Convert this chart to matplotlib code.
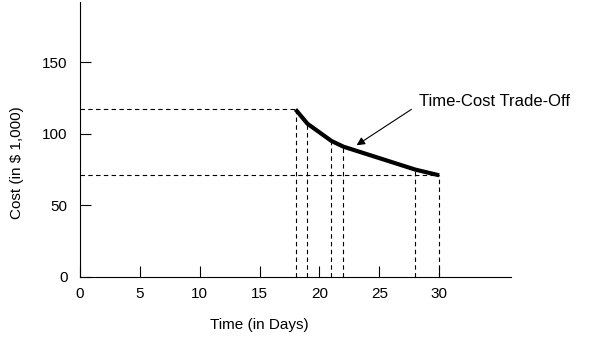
import matplotlib
matplotlib.use("Agg")
import matplotlib.pyplot as plt

plt.rcParams['font.family'] = ['Liberation Sans', 'DejaVu Sans']

days = [18, 19, 21, 22, 28, 30]
cost = [117, 107, 95, 91, 75, 71]
x_ticks = [0, 5, 10, 15, 20, 25, 30]
y_ticks = [0, 50, 100, 150]

fig = plt.figure(figsize=(5.89, 3.43), dpi=100)
ax = fig.add_axes([80 / 589, 66 / 343, 431 / 589, 275 / 343])

# guide lines from the end points back to the cost axis
dash = dict(color='black', lw=0.8, ls=(0, (4, 3)))
ax.plot([0, days[0]], [cost[0], cost[0]], **dash)
ax.plot([0, days[-1]], [cost[-1], cost[-1]], **dash)
for d, c in zip(days, cost):
    ax.plot([d, d], [0, c], **dash)

ax.plot(days, cost, color='black', lw=3, solid_capstyle='butt',
        solid_joinstyle='round')

ax.annotate('Time-Cost Trade-Off', xy=(23.1, 92), xytext=(28.3, 122.5),
            fontsize=12, va='center', ha='left',
            arrowprops=dict(arrowstyle='-|>', color='black', lw=0.8,
                            mutation_scale=12, shrinkA=4, shrinkB=0,
                            relpos=(0, 0.3)))

ax.set_xlim(0, 36)
ax.set_ylim(0, 192)
ax.set_xticks(x_ticks)
ax.set_yticks(y_ticks)
ax.tick_params(direction='in', length=8, width=0.8, labelsize=11, pad=7)
ax.tick_params(axis='y', pad=9)
for s in ['top', 'right']:
    ax.spines[s].set_visible(False)

ax.set_xlabel('Time (in Days)', fontsize=11)
ax.xaxis.set_label_coords(0.415, -0.15)
ax.set_ylabel('Cost (in $ 1,000)', fontsize=11)
ax.yaxis.set_label_coords(-0.13, 0.415)

fig.savefig('out.png', dpi=100)
